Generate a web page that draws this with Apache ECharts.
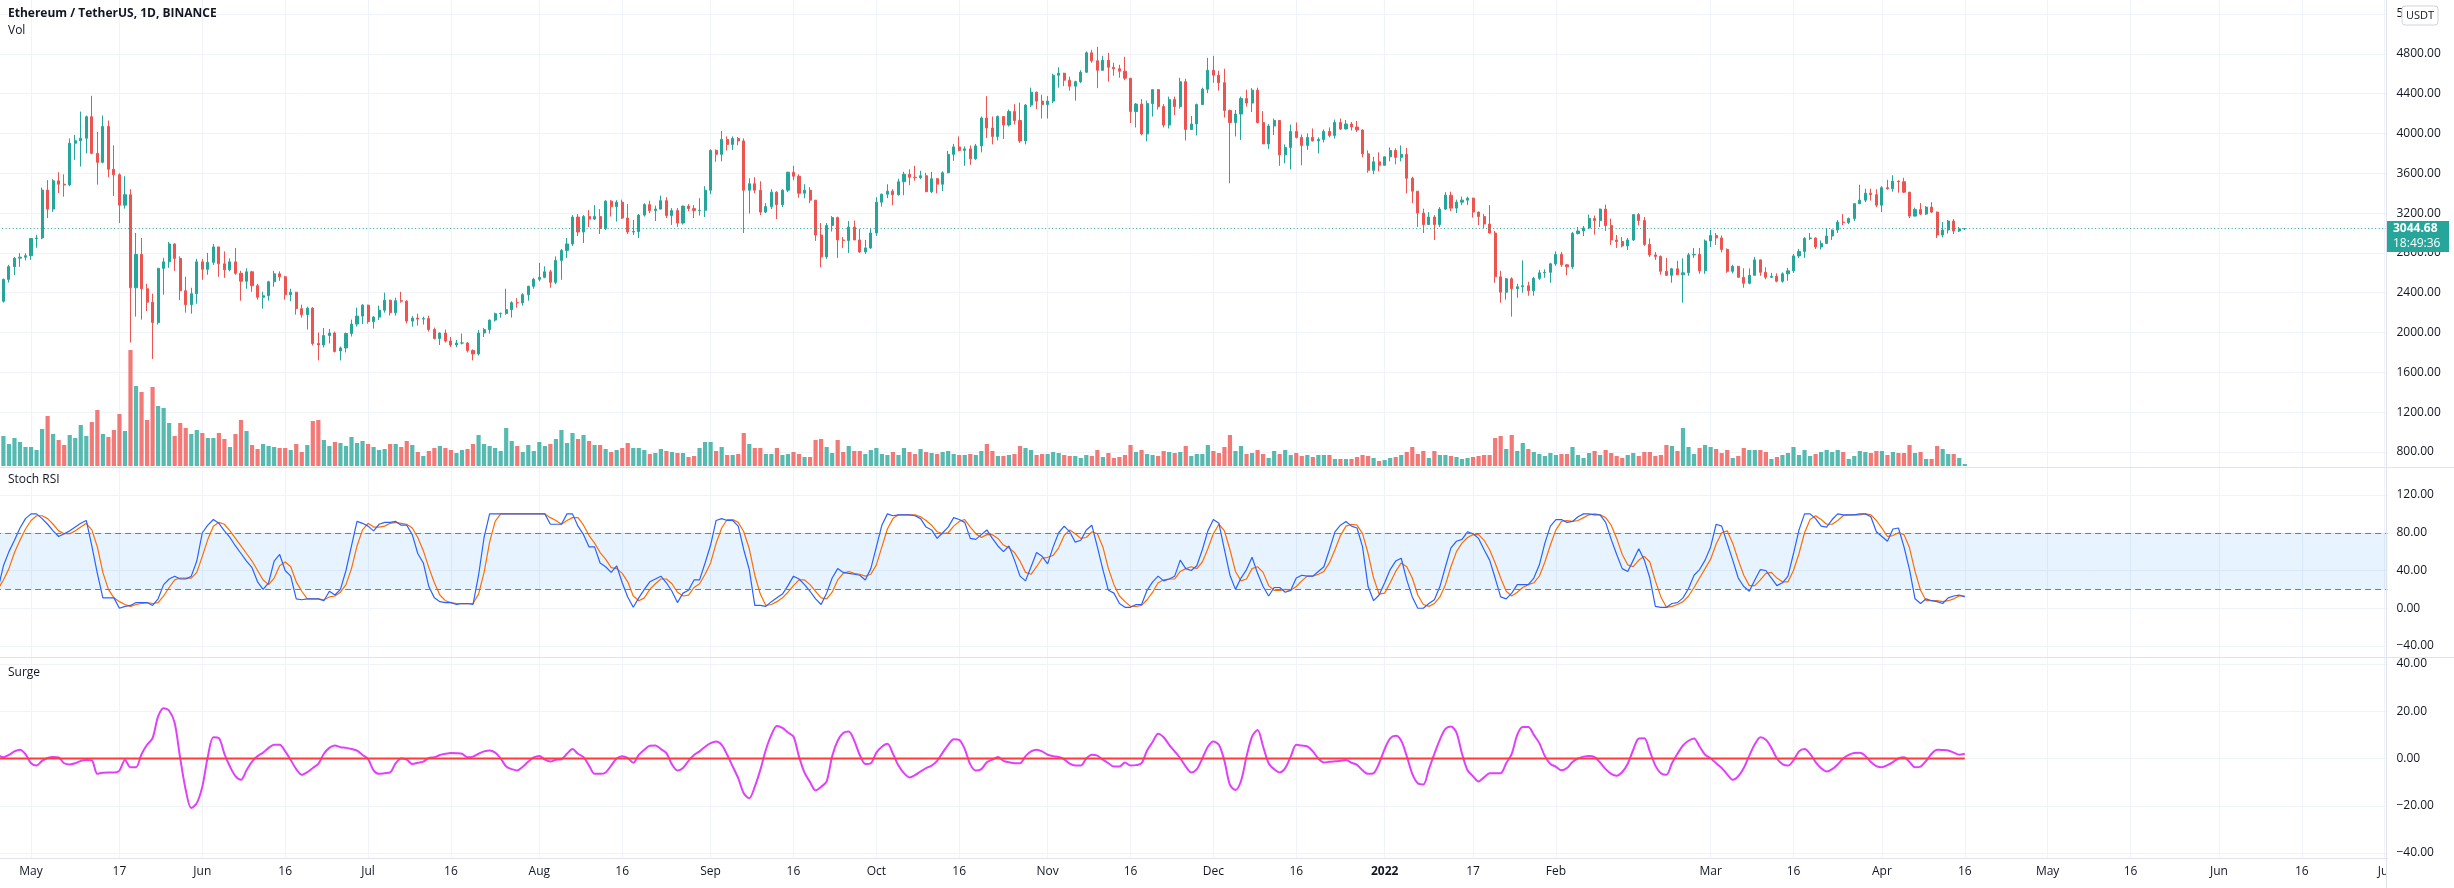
<!DOCTYPE html>
<html><head><meta charset="utf-8">
<script src="https://cdn.jsdelivr.net/npm/echarts/dist/echarts.min.js"></script>
<style>html,body{margin:0;padding:0;background:#fff;overflow:hidden}#c{width:2454px;height:888px}</style>
</head><body><div id="c"></div>
<script>
// ---------- DATA ----------
const firstDay = '2021-04-25';   // first (partly visible) daily candle
const lastAxisDay = '2022-07-01'; // axis runs on into empty future space
// daily candles as [open, high, low, close]
const apr21 = [[2235,2340,2165,2315],[2315,2543,2300,2534],[2534,2680,2503,2662],[2662,2757,2577,2747],[2747,2798,2660,2757],[2757,2797,2724,2772]];
const may21 = [[2772,2950,2730,2945],[2945,2982,2852,2950],[2950,3456,2938,3431],[3431,3531,3150,3240],[3240,3541,3212,3524],[3524,3610,3400,3490],[3490,3589,3365,3483],[3483,3950,3470,3902],[3902,3985,3735,3927],[3927,4220,3668,3952],
[3952,4180,3800,4168],[4168,4378,3790,3800],[3800,4015,3486,3710],[3710,4180,3700,4070],[4070,4130,3560,3640],[3640,3880,3370,3585],[3585,3600,3100,3280],[3280,3570,3245,3385],[3385,3440,1900,2450],[2450,3000,2160,2785],
[2785,2950,2130,2440],[2440,2490,2215,2305],[2305,2390,1735,2100],[2100,2650,2080,2645],[2645,2750,2380,2710],[2710,2910,2650,2890],[2890,2895,2620,2745],[2745,2765,2325,2420],[2420,2560,2200,2280],[2280,2450,2190,2390],
[2390,2740,2290,2710]];
const jun21 = [[2710,2740,2530,2635],[2635,2800,2580,2705],[2705,2890,2680,2860],[2860,2860,2560,2690],[2690,2815,2550,2630],[2630,2745,2615,2710],[2710,2850,2580,2595],[2595,2620,2320,2515],[2515,2645,2440,2610],[2610,2620,2410,2470],
[2470,2490,2330,2355],[2355,2410,2240,2370],[2370,2520,2320,2510],[2510,2620,2460,2590],[2590,2615,2520,2560],[2560,2570,2330,2380],[2380,2440,2315,2405],[2405,2410,2180,2240],[2240,2280,2150,2180],[2180,2260,2030,2245],
[2245,2255,1870,1890],[1890,2000,1720,1875],[1875,2045,1850,1970],[1970,2035,1890,1995],[1995,2010,1800,1810],[1815,1860,1720,1845],[1845,2000,1800,1990],[1990,2130,1960,2085],[2085,2250,2060,2165],[2165,2285,2085,2275]];
const jul21 = [[2275,2280,2090,2110],[2110,2165,2040,2155],[2155,2270,2125,2225],[2225,2400,2200,2325],[2325,2330,2170,2200],[2200,2350,2170,2320],[2320,2410,2300,2315],[2315,2325,2090,2115],[2115,2165,2060,2145],[2145,2190,2070,2135],
[2135,2160,2080,2140],[2140,2170,2010,2030],[2030,2050,1930,1940],[1940,2000,1875,1995],[1995,2030,1900,1915],[1915,1955,1855,1875],[1875,1925,1852,1895],[1895,1990,1880,1895],[1895,1905,1800,1820],[1820,1830,1720,1785],
[1785,2025,1770,1995],[1995,2045,1955,2030],[2030,2130,1990,2125],[2125,2200,2110,2190],[2190,2200,2150,2192],[2192,2440,2180,2230],[2230,2315,2150,2300],[2300,2345,2250,2298],[2298,2395,2270,2380],[2380,2470,2320,2465],
[2465,2550,2440,2535]];
const aug21 = [[2535,2700,2515,2555],[2555,2665,2545,2610],[2610,2630,2450,2505],[2505,2765,2485,2725],[2725,2840,2530,2825],[2825,2950,2750,2890],[2890,3180,2870,3160],[3160,3190,2970,3010],[3010,3180,2900,3165],[3165,3230,3060,3140],
[3140,3280,3130,3165],[3165,3240,2990,3045],[3045,3330,3030,3320],[3320,3330,3165,3265],[3265,3330,3115,3310],[3310,3335,3140,3150],[3150,3290,2990,3010],[3010,3130,2980,3015],[3015,3190,2950,3180],[3180,3300,3165,3285],
[3285,3325,3200,3225],[3225,3275,3120,3240],[3240,3375,3235,3325],[3325,3360,3150,3175],[3175,3250,3080,3225],[3225,3250,3060,3100],[3100,3275,3085,3270],[3270,3290,3220,3245],[3245,3280,3150,3225],[3225,3350,3175,3228],
[3228,3470,3160,3430]];
const sep21 = [[3430,3840,3390,3830],[3830,3840,3715,3790],[3790,4025,3720,3940],[3940,3970,3830,3890],[3890,3970,3835,3950],[3950,3965,3880,3925],[3925,3950,3000,3430],[3430,3550,3195,3495],[3495,3560,3400,3430],[3430,3520,3180,3210],
[3210,3300,3200,3265],[3265,3440,3240,3410],[3410,3420,3140,3285],[3285,3440,3260,3430],[3430,3615,3410,3610],[3610,3675,3530,3570],[3570,3590,3355,3400],[3400,3490,3350,3430],[3430,3460,3300,3330],[3330,3330,2920,2980],
[2980,3100,2655,2760],[2760,3100,2740,3075],[3075,3170,3015,3155],[3155,3165,2750,2930],[2930,2960,2850,2925],[2925,3120,2800,3060],[3060,3125,2930,2930],[2930,3040,2800,2810],[2810,2930,2790,2850],[2850,3040,2840,3000]];
const oct21 = [[3000,3360,2970,3310],[3310,3395,3265,3390],[3390,3490,3350,3420],[3420,3440,3280,3385],[3385,3545,3375,3515],[3515,3615,3380,3590],[3590,3640,3480,3560],[3560,3675,3525,3555],[3555,3625,3540,3575],[3575,3605,3410,3415],
[3415,3615,3400,3545],[3545,3550,3400,3490],[3490,3620,3420,3605],[3605,3825,3600,3790],[3790,3895,3725,3865],[3865,3970,3820,3830],[3830,3870,3675,3845],[3845,3880,3685,3745],[3745,3895,3735,3875],[3875,4170,3810,4155],
[4155,4375,3955,4055],[4055,4170,3890,3970],[3970,4180,3930,4170],[4170,4175,3945,4085],[4085,4240,4070,4220],[4220,4295,4090,4130],[4130,4310,3905,3925],[3925,4295,3890,4285],[4285,4460,4265,4415],[4415,4420,4245,4325],
[4325,4390,4150,4290]];
const nov21 = [[4290,4375,4150,4325],[4325,4600,4305,4585],[4585,4665,4460,4605],[4605,4610,4475,4535],[4535,4570,4430,4475],[4475,4530,4330,4520],[4520,4635,4505,4615],[4615,4825,4610,4810],[4810,4840,4710,4730],[4730,4870,4455,4635],
[4635,4780,4630,4735],[4735,4810,4520,4665],[4665,4710,4580,4650],[4650,4690,4560,4625],[4625,4770,4535,4555],[4555,4555,4105,4220],[4220,4305,4060,4295],[4295,4345,3980,3995],[3995,4330,3920,4300],[4300,4440,4170,4440],
[4440,4445,4240,4270],[4270,4295,4060,4085],[4085,4370,4050,4340],[4340,4370,4185,4270],[4270,4560,4250,4520],[4520,4550,3930,4040],[4040,4175,4040,4095],[4095,4300,3980,4290],[4290,4460,4285,4445],[4445,4760,4405,4635]];
const dec21 = [[4635,4780,4510,4585],[4585,4630,4430,4510],[4510,4650,4160,4230],[4230,4240,3500,4110],[4110,4235,3970,4195],[4195,4370,3935,4350],[4350,4440,4270,4305],[4305,4455,4215,4435],[4435,4460,4100,4110],[4110,4225,3895,3895],
[3895,4095,3845,4075],[4075,4150,3985,4130],[4130,4135,3675,3785],[3785,3890,3700,3860],[3860,4090,3640,4020],[4020,4110,3950,3960],[3960,3990,3680,3880],[3880,4000,3835,3960],[3960,4050,3920,3925],[3925,3960,3800,3940],
[3940,4040,3910,4020],[4020,4060,3960,3980],[3980,4140,3950,4110],[4110,4150,4035,4045],[4045,4135,4040,4095],[4095,4115,4030,4065],[4065,4125,4015,4035],[4035,4040,3760,3795],[3795,3830,3605,3630],[3630,3765,3590,3715],
[3715,3810,3620,3680]];
const jan22 = [[3680,3770,3680,3765],[3765,3860,3720,3830],[3830,3850,3690,3760],[3760,3880,3720,3790],[3790,3855,3400,3550],[3550,3565,3300,3420],[3420,3420,3060,3200],[3200,3245,3000,3085],[3085,3210,3080,3160],[3160,3180,2930,3085],
[3085,3260,3060,3240],[3240,3410,3230,3380],[3380,3415,3220,3250],[3250,3335,3200,3310],[3310,3365,3280,3330],[3330,3365,3280,3350],[3350,3355,3155,3210],[3210,3215,3080,3165],[3165,3190,3050,3090],[3090,3280,2995,3000],
[3000,3020,2500,2560],[2560,2620,2300,2405],[2405,2550,2330,2540],[2540,2555,2160,2440],[2440,2490,2350,2460],[2460,2725,2400,2470],[2470,2510,2370,2420],[2420,2560,2370,2545],[2545,2630,2530,2600],[2600,2635,2550,2605],
[2605,2700,2500,2690]];
const feb22 = [[2690,2815,2670,2785],[2785,2810,2660,2680],[2680,2690,2575,2660],[2660,3010,2640,2995],[2995,3060,2985,3020],[3020,3070,2970,3050],[3050,3185,3040,3145],[3145,3175,2985,3125],[3125,3245,3060,3240],[3240,3285,3020,3075],
[3075,3145,2880,2930],[2930,2980,2850,2915],[2915,2960,2855,2870],[2870,2950,2830,2930],[2930,3190,2920,3185],[3185,3200,3075,3125],[3125,3160,2870,2885],[2885,2945,2760,2780],[2780,2810,2730,2765],[2765,2775,2580,2615],
[2615,2750,2570,2575],[2575,2650,2500,2640],[2640,2720,2580,2580],[2580,2745,2300,2600],[2600,2800,2570,2780],[2780,2850,2750,2785],[2785,2850,2590,2620],[2620,2935,2590,2920]];
const mar22 = [[2920,3030,2860,2975],[2975,3000,2880,2950],[2950,2975,2805,2835],[2835,2845,2600,2615],[2615,2680,2595,2665],[2665,2670,2555,2555],[2555,2645,2450,2495],[2495,2645,2485,2575],[2575,2760,2575,2730],[2730,2735,2570,2605],
[2605,2655,2535,2555],[2555,2600,2550,2565],[2565,2595,2505,2515],[2515,2605,2500,2590],[2590,2650,2520,2620],[2620,2790,2600,2770],[2770,2840,2750,2815],[2815,2960,2750,2945],[2945,3000,2930,2950],[2950,2955,2840,2860],
[2860,2925,2835,2895],[2895,3050,2890,2970],[2970,3035,2930,3030],[3030,3130,3000,3110],[3110,3190,3080,3105],[3105,3155,3090,3145],[3145,3300,3120,3295],[3295,3485,3290,3330],[3330,3445,3310,3400],[3400,3445,3325,3385],
[3385,3440,3260,3280]];
const apr22 = [[3280,3470,3210,3455],[3455,3535,3435,3445],[3445,3580,3415,3520],[3520,3530,3405,3515],[3515,3555,3400,3410],[3410,3410,3150,3170],[3170,3255,3165,3235],[3235,3300,3180,3190],[3190,3270,3180,3260],[3260,3310,3200,3210],
[3210,3215,2950,2980],[2980,3110,2955,3030],[3030,3130,2995,3120],[3120,3140,2990,3020],[3020,3060,3010,3042],[3042,3050,3030,3044.68]];

// volume (relative units, one per candle)
const volume = [23,30,22,28,24,19,19,16,37,50,32,26,21,31,28,41,30,44,56,32,29,36,52,35,116,80,74,46,79,60,58,43,30,43,38,32,36,33,28,28,33,27,19,32,46,35,21,17,22,20,19,18,18,16,22,14,21,45,46,26,20,24,23,20,29,23,25,22,19,16,17,22,22,
19,25,21,14,10,15,18,20,18,16,13,16,17,22,31,22,20,18,15,38,25,20,14,21,15,24,20,22,27,36,23,33,27,31,25,21,21,17,14,16,18,23,18,18,16,12,13,17,15,14,13,13,9,10,18,24,24,15,19,11,11,12,33,22,18,18,12,12,18,11,12,14,
12,9,9,26,27,19,13,26,14,20,15,15,12,16,18,12,11,14,11,18,14,12,17,14,13,12,14,15,12,11,11,12,11,15,22,15,10,10,11,12,20,18,16,11,12,12,14,13,11,10,10,8,11,10,16,9,13,8,9,11,21,14,16,12,11,10,15,14,13,14,20,10,12,
12,21,15,13,19,31,15,20,12,13,16,12,8,15,12,16,11,13,10,11,9,11,11,11,7,7,7,7,9,11,10,8,5,6,8,9,11,14,19,12,15,8,15,11,11,10,9,7,8,9,10,11,11,28,30,17,31,15,23,17,14,12,10,13,11,12,12,19,11,8,13,15,
11,16,13,10,8,11,13,10,14,14,10,11,21,20,15,38,19,12,18,21,19,17,13,16,8,10,18,16,16,16,14,7,9,11,13,19,11,16,10,12,14,16,14,16,14,7,10,15,14,13,15,15,11,14,13,13,21,13,14,7,7,20,17,12,12,8,2];

// Stoch RSI %K (blue) and %D (orange)
const stochK = [20,45,60,72,85,95,100,100,95,89,82,76,79,82,86,90,93,66,37,11,11,11,0,2,3,6,6,6,3,10,25,31,34,31,31,34,50,80,88,94,90,82,75,66,58,50,43,28,20,27,50,57,40,34,10,9,10,10,10,8,18,14,20,40,66,92,90,87,82,89,
91,91,92,88,88,78,58,48,23,11,7,6,6,4,5,5,4,35,75,100,100,100,100,100,100,100,100,100,100,100,89,89,89,100,100,87,78,65,65,48,44,38,45,27,12,1,11,20,28,31,34,27,18,6,16,19,30,30,48,67,
93,95,93,93,87,62,41,3,3,2,7,11,15,24,34,31,25,18,10,4,16,32,42,38,37,36,35,30,42,65,88,100,98,99,99,99,98,95,86,83,74,80,86,96,94,91,74,73,78,83,74,66,60,66,51,34,29,44,59,55,
47,65,80,87,81,70,72,83,88,65,41,19,16,5,1,1,4,4,19,28,34,29,31,34,51,42,40,45,62,82,94,90,62,35,20,32,41,54,37,23,13,22,22,17,19,32,35,34,34,39,44,62,81,88,92,87,85,65,23,8,
14,27,41,50,53,30,12,0,0,5,9,23,44,64,71,73,81,79,74,62,51,32,12,10,16,25,25,25,32,46,69,87,94,94,91,92,97,100,100,99,99,91,73,57,42,39,51,63,51,32,2,1,1,5,6,11,21,35,41,51,
65,89,87,69,51,32,23,18,30,41,40,32,24,27,34,58,83,100,100,95,87,86,94,100,99,99,99,100,100,97,81,76,71,84,85,65,41,10,5,10,8,7,5,11,13,14,12];
const stochD = [20,30,42,59,72,84,93,98,98,95,89,82,79,79,82,86,90,83,65,38,20,11,7,4,2,4,5,6,5,6,13,22,30,32,32,32,38,55,73,87,91,89,82,74,66,58,50,40,30,25,32,45,49,44,28,18,10,10,10,9,12,13,17,25,42,66,83,90,86,86,
87,90,91,90,89,85,75,61,43,27,14,8,6,5,5,5,5,15,38,70,92,100,100,100,100,100,100,100,100,100,96,93,89,93,96,96,88,77,69,59,52,43,42,37,28,13,8,11,20,26,31,31,26,17,13,14,22,26,36,48,
69,85,94,94,91,81,63,35,15,3,4,7,11,17,24,30,30,25,18,11,10,17,30,37,39,37,36,34,36,46,65,84,95,99,99,99,99,97,93,88,81,79,80,87,92,94,86,79,75,78,78,74,67,64,59,50,38,36,44,53,
54,56,64,77,83,79,74,75,81,79,65,42,25,13,7,2,2,3,9,17,27,30,31,31,39,42,44,42,49,63,79,89,82,62,39,29,31,42,44,38,24,19,19,20,19,23,29,34,34,36,39,48,62,77,87,89,88,79,58,32,
15,16,27,39,48,44,32,14,4,2,5,12,25,44,60,69,75,78,78,72,62,48,32,18,13,17,22,25,27,34,49,67,83,92,93,92,93,96,99,100,99,96,88,74,57,46,44,51,55,49,29,12,1,2,4,7,13,22,32,42,
52,68,80,82,69,51,35,24,24,30,37,38,32,28,28,40,58,80,94,98,94,89,89,93,98,99,99,99,100,99,93,85,76,77,80,78,64,39,19,8,8,8,7,8,10,13,13];

// Surge oscillator
const surge = [1.6,0.5,1.5,3,3.7,1.8,-2,-3,-1,0.2,0.6,0.4,-2,-2.5,-2,-1,-0.6,-0.8,-6.5,-6,-5.9,-5.9,-5.1,-0.6,-3.7,-3.7,1.8,5.8,8.6,17.8,21.3,20.2,15,0.1,-13.3,-21,-18.9,-11.9,0.8,9,
8.6,2,-3.4,-7.5,-9,-5,-1.3,1,2.5,4.5,5.8,5.8,3,-0.6,-4.5,-6.9,-5.8,-4,-2.3,2,4.5,5.5,4.8,4.5,4,3.3,1.5,-0.3,-5,-6.5,-6.2,-5.9,-2,0,-0.5,-2.3,-1.8,-1.3,0.2,0.5,
1.5,2,2.3,2.2,2,0.5,0.8,2,3,3.4,2.5,0,-3.4,-4.5,-5.1,-3.5,-1.3,0.5,1.1,-0.5,-1.3,-0.5,-0.3,2,4,2,0.6,-3,-6.5,-6.5,-5.9,-3,0,1,0.2,-1.8,1.5,3.7,5.4,5.5,
4,2.3,-2.5,-5.1,-4,-1,1.5,3,5,6.5,7.2,5.8,1.6,-3.4,-8.3,-14.7,-16.8,-11.9,-4.8,3.7,10,13.8,13,11,9.3,0.8,-6,-10,-13.5,-12,-9.7,1,7.5,10.8,11.4,7.5,1.5,-2.3,-2,2.5,
5,6.2,2,-3,-6.2,-8,-7,-5.5,-4.1,-3,-1,2.5,5.8,8.2,7.9,4,-2.5,-5.1,-4.5,-1.6,-0.5,0.6,-1,-1.6,-2,-2,1,3,3.7,3,1.6,1,0.6,-0.4,-2.2,-3,-3,0,1.6,1.2,
-0.5,-2,-3.4,-3.4,-1.7,-3,-2.8,-2,3.4,7,10.5,9,5.8,3,0.1,-3.4,-5.9,-4.5,0,5,7.2,5.8,-1,-11.2,-13.3,-9.5,0.8,9.3,12.1,5.1,-2,-4.5,-5.9,-4.1,0.8,5.8,5.5,5.1,3,0,
-1.7,-1.4,-1.2,-1,-0.6,-1.8,-2.7,-5,-6.5,-6.2,-2,4,8.5,9.6,7.5,1,-6.5,-10.5,-11,-4.5,2,8,12.5,13.5,11,2,-5,-7.5,-9.7,-8,-6.2,-6.2,-6.2,-2,2,10,13.3,13.3,10,6.5,
1,-2.3,-3.5,-5,-4,-1.5,0,0.8,1.1,0.6,-1.7,-4.5,-6.5,-7.3,-5.7,-2.2,3.7,8.5,8.6,3,-3,-6.2,-6.9,-2,2,5.5,7.5,8.5,5.1,1.6,0.1,-2,-4,-6.7,-9,-7.5,-4,1.2,6,9,
7.9,4.5,0,-2.4,-3,-0.8,3,4,2,-1.5,-4.1,-5.5,-4.5,-2.5,0,1.5,2.3,2.4,1.1,-1.5,-3.2,-3.7,-2.8,-1.5,0,0.5,-1.5,-3.7,-3.4,-1,2,3.7,3.6,3.4,2.5,1.6,2];
const surgeBase = 0;
const stochBands = [20, 80];
const priceAxis = {min: 800, max: 5200, interval: 400};
const stochAxis = {min: -40, max: 120, interval: 40};
const surgeAxis = {min: -40, max: 40, interval: 20};
const lastPrice = 3044.68;
const countdown = '18:49:36';
const timeLabels = [['2021-05-01','May'],['2021-05-17','17'],['2021-06-01','Jun'],['2021-06-16','16'],['2021-07-01','Jul'],['2021-07-16','16'],['2021-08-01','Aug'],['2021-08-16','16'],['2021-09-01','Sep'],['2021-09-16','16'],['2021-10-01','Oct'],['2021-10-16','16'],['2021-11-01','Nov'],['2021-11-16','16'],['2021-12-01','Dec'],['2021-12-16','16'],['2022-01-01','2022'],['2022-01-17','17'],['2022-02-01','Feb'],['2022-03-01','Mar'],['2022-03-16','16'],['2022-04-01','Apr'],['2022-04-16','16'],['2022-05-01','May'],['2022-05-16','16'],['2022-06-01','Jun'],['2022-06-16','16'],['2022-07-01','Jul']];
const titleText = 'Ethereum / TetherUS, 1D, BINANCE';

// ---------- BUILD ----------
const candles = [].concat(apr21, may21, jun21, jul21, aug21, sep21, oct21, nov21, dec21, jan22, feb22, mar22, apr22);
const dates = [];
for (let t = Date.parse(firstDay + 'T00:00:00Z'), e = Date.parse(lastAxisDay + 'T00:00:00Z'); t <= e; t += 86400000) {
  dates.push(new Date(t).toISOString().slice(0, 10));
}
const labelMap = new Map(timeLabels);
const isTick = (i, v) => labelMap.has(v);

const UP = '#26a69a', DOWN = '#ef5350';
const FONT = '"Open Sans", "Noto Sans", sans-serif';
const TXT = '#131722';
const GRIDC = '#f0f3fa';
const BORDER = '#e0e3eb';
const L = -4.87, W = 2392.3; // plot spans x -4.87 .. 2387.4 (5.525 px per day)

const fmt = v => (v < 0 ? '\u2212' + Math.abs(v).toFixed(2) : v.toFixed(2));
const grids = [
  {left: L, width: W, top: 14, height: 438},   // price
  {left: L, width: W, top: 216, height: 250},  // volume overlay
  {left: L, width: W, top: 495, height: 151},  // stoch rsi
  {left: L, width: W, top: 664, height: 189},  // surge
  {left: L, width: W, top: 0, height: 858}     // time axis + vertical grid
].map(g => Object.assign(g, {containLabel: false, outerBoundsMode: 'none'}));

const hiddenX = i => ({type: 'category', gridIndex: i, data: dates, boundaryGap: true, show: false});
const valAxis = (i, a) => ({
  type: 'value', gridIndex: i, position: 'right', min: a.min, max: a.max, interval: a.interval,
  axisLine: {show: false}, axisTick: {show: false},
  axisLabel: {color: TXT, fontSize: 12, fontFamily: FONT, margin: 9, formatter: fmt},
  splitLine: {show: true, lineStyle: {color: GRIDC, width: 1}}
});

const chart = echarts.init(document.getElementById('c'), null, {renderer: 'canvas'});
const option = {
  animation: false,
  backgroundColor: '#ffffff',
  grid: grids,
  xAxis: [hiddenX(0), hiddenX(1), hiddenX(2), hiddenX(3), {
    type: 'category', gridIndex: 4, data: dates, boundaryGap: true,
    axisLine: {show: true, lineStyle: {color: BORDER, width: 1}},
    axisTick: {show: false, alignWithLabel: true},
    axisLabel: {interval: isTick, color: TXT, fontSize: 12, fontFamily: FONT, margin: 8,
      formatter: v => v === '2022-01-01' ? '{b|2022}' : labelMap.get(v),
      rich: {b: {fontWeight: 'bold', fontSize: 12, fontFamily: FONT, color: TXT}}},
    splitLine: {show: true, interval: isTick, alignWithLabel: true, lineStyle: {color: GRIDC, width: 1}}
  }],
  yAxis: [
    valAxis(0, priceAxis),
    {type: 'value', gridIndex: 1, min: 0, max: 250, show: false},
    valAxis(2, stochAxis),
    valAxis(3, surgeAxis),
    {type: 'value', gridIndex: 4, min: 0, max: 1, show: false}
  ],
  series: [
    {
      type: 'bar', name: 'Vol', xAxisIndex: 1, yAxisIndex: 1, barWidth: 4.2, z: 1,
      data: volume.map((v, i) => ({value: v, itemStyle: {color: candles[i][3] >= candles[i][0] ? 'rgba(38,166,154,0.78)' : 'rgba(239,83,80,0.78)'}}))
    },
    {
      type: 'candlestick', name: 'ETHUSDT', xAxisIndex: 0, yAxisIndex: 0, barWidth: 2.6, z: 3,
      data: candles.map(c => [c[0], c[3], c[2], c[1]]),
      itemStyle: {color: UP, color0: DOWN, borderColor: UP, borderColor0: DOWN, borderWidth: 1},
      markLine: {silent: true, symbol: 'none', label: {show: false},
        lineStyle: {color: UP, type: [1, 2.5], width: 1}, data: [{yAxis: lastPrice}]}
    },
    {
      type: 'line', name: 'K', xAxisIndex: 2, yAxisIndex: 2, data: stochK, showSymbol: false, symbol: 'none', z: 4,
      lineStyle: {color: '#2962FF', width: 1.2},
      markArea: {silent: true, itemStyle: {color: 'rgba(33,150,243,0.11)'}, data: [[{yAxis: stochBands[0]}, {yAxis: stochBands[1]}]]},
      markLine: {silent: true, symbol: 'none', label: {show: false},
        lineStyle: {color: '#787B86', type: [6, 4], width: 1}, data: [{yAxis: stochBands[1]}, {yAxis: stochBands[0]}]}
    },
    {type: 'line', name: 'D', xAxisIndex: 2, yAxisIndex: 2, data: stochD, showSymbol: false, symbol: 'none', z: 3,
      lineStyle: {color: '#FF6D00', width: 1.2}},
    {type: 'line', name: 'Surge', xAxisIndex: 3, yAxisIndex: 3, data: surge, showSymbol: false, symbol: 'none', z: 3, smooth: 0.3,
      lineStyle: {color: '#E040FB', width: 2}},
    {type: 'line', name: 'zero', xAxisIndex: 3, yAxisIndex: 3, showSymbol: false, symbol: 'none', z: 4,
      data: [[dates[0], surgeBase], [dates[candles.length - 1], surgeBase]], lineStyle: {color: '#FF3B3B', width: 2}}
  ]
};
chart.setOption(option);

// overlay: pane titles, separators, axis border, price badge
const py = chart.convertToPixel({yAxisIndex: 0}, lastPrice);
chart.setOption({graphic: [
  {type: 'text', left: 8, top: 8, z: 50, style: {text: titleText, fill: TXT, font: 'bold 12px ' + FONT}},
  {type: 'text', left: 8, top: 25, z: 50, style: {text: 'Vol', fill: TXT, font: '12px ' + FONT}},
  {type: 'text', left: 8, top: 474, z: 50, style: {text: 'Stoch RSI', fill: TXT, font: '12px ' + FONT}},
  {type: 'text', left: 8, top: 667, z: 50, style: {text: 'Surge', fill: TXT, font: '12px ' + FONT}},
  {type: 'rect', z: 40, shape: {x: 2387, y: 859, width: 67, height: 29}, style: {fill: '#ffffff'}},
  {type: 'rect', z: 55, shape: {x: 2402, y: 4, width: 52, height: 22}, style: {fill: '#ffffff'}},
  {type: 'line', z: 45, shape: {x1: 0, y1: 467.5, x2: 2454, y2: 467.5}, style: {stroke: BORDER, lineWidth: 1}},
  {type: 'line', z: 45, shape: {x1: 0, y1: 657.5, x2: 2454, y2: 657.5}, style: {stroke: BORDER, lineWidth: 1}},
  {type: 'line', z: 46, shape: {x1: 2386.5, y1: 0, x2: 2386.5, y2: 888}, style: {stroke: BORDER, lineWidth: 1}},
  {type: 'rect', z: 60, shape: {x: 2402, y: 6, width: 36, height: 19, r: 3}, style: {fill: '#ffffff', stroke: '#d1d4dc', lineWidth: 1}},
  {type: 'text', z: 61, x: 2420, y: 15.5, style: {text: 'USDT', fill: TXT, font: '11px ' + FONT, textAlign: 'center', textVerticalAlign: 'middle'}},
  {type: 'rect', z: 60, shape: {x: 2387, y: Math.round(py) - 8, width: 62, height: 31}, style: {fill: UP}},
  {type: 'text', z: 61, x: 2393, y: Math.round(py), style: {text: lastPrice.toFixed(2), fill: '#ffffff', font: 'bold 12px ' + FONT, textVerticalAlign: 'middle'}},
  {type: 'text', z: 61, x: 2393, y: Math.round(py) + 15, style: {text: countdown, fill: '#ffffff', font: '12px ' + FONT, textVerticalAlign: 'middle'}}
]});
</script>
</body></html>
